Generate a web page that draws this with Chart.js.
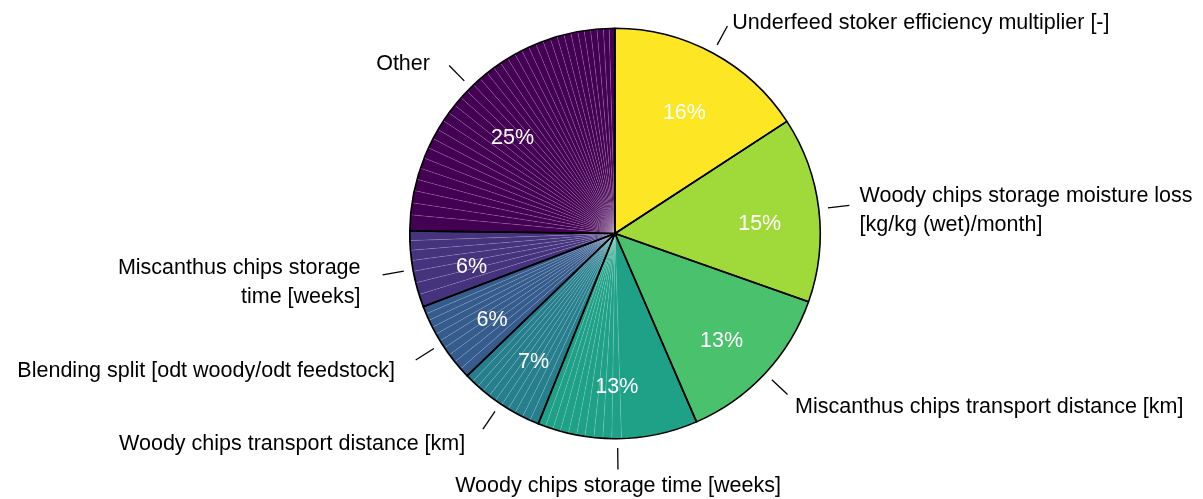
<!DOCTYPE html>
<html>
<head>
<meta charset="utf-8">
<script src="https://cdn.jsdelivr.net/npm/chart.js@4/dist/chart.umd.min.js"></script>
<style>
  body { margin: 0; background: #fff; }
  #wrap { width: 1203px; height: 499px; }
</style>
</head>
<body>
<div id="wrap"><canvas id="pie" width="1203" height="499"></canvas></div>
<script>
// group labels, clockwise from 12 o'clock
const groupLabels = [
  "Underfeed stoker efficiency multiplier [-]",
  ["Woody chips storage moisture loss", "[kg/kg (wet)/month]"],
  "Miscanthus chips transport distance [km]",
  "Woody chips storage time [weeks]",
  "Woody chips transport distance [km]",
  "Blending split [odt woody/odt feedstock]",
  ["Miscanthus chips storage", "time [weeks]"],
  "Other"
];

// sub-contributions inside each group (% of total)
const underfeed = [15.8];
const woodyMoisture = [14.6];
const miscTransport = [13.1];
const woodyStorage = [6.0, 0.75, 0.7, 0.7, 0.7, 0.65, 0.65, 0.65, 0.6, 0.6, 0.6];
const woodyTransport = [0.7, 0.65, 0.65, 0.6, 0.6, 0.6, 0.6, 0.6, 0.55, 0.55, 0.6];
const blending = [0.75, 0.7, 0.7, 0.65, 0.65, 0.6, 0.6, 0.6, 0.55, 0.6];
const miscStorage = [1.0, 0.95, 0.9, 0.85, 0.8, 0.75, 0.75];
const other = [1.25, 0.95, 0.95, 0.9, 0.9, 0.85, 0.85, 0.8, 0.8, 0.8, 0.75, 0.75, 0.75,
  0.7, 0.7, 0.7, 0.7, 0.65, 0.65, 0.65, 0.65, 0.6, 0.6, 0.6, 0.6, 0.6,
  0.55, 0.55, 0.55, 0.55, 0.5, 0.5, 0.5, 0.5, 0.45, 0.45];

const groupValues = [underfeed, woodyMoisture, miscTransport, woodyStorage,
  woodyTransport, blending, miscStorage, other];

const groupColors = ["#FDE725", "#9FDA3A", "#4AC16D", "#1FA187",
  "#277F8E", "#365C8D", "#46337E", "#440154"];

// flatten for the library
const data = [];
const colors = [];
const groupOf = [];
groupValues.forEach((g, i) => {
  g.forEach(v => { data.push(v); colors.push(groupColors[i]); groupOf.push(i); });
});

const FONT = "'Liberation Sans', Arial, Helvetica, sans-serif";

const groupPlugin = {
  id: 'groups',
  afterDatasetsDraw(chart) {
    const ctx = chart.ctx;
    const arcs = chart.getDatasetMeta(0).data;
    const cx = arcs[0].x, cy = arcs[0].y, r = arcs[0].outerRadius;

    ctx.save();
    groupValues.forEach((g, gi) => {
      const idx = [];
      groupOf.forEach((k, j) => { if (k === gi) idx.push(j); });
      const a0 = arcs[idx[0]].startAngle;
      const a1 = arcs[idx[idx.length - 1]].endAngle;
      const mid = (a0 + a1) / 2;
      const total = g.reduce((s, v) => s + v, 0);

      // black outline of the group
      ctx.beginPath();
      ctx.moveTo(cx, cy);
      ctx.arc(cx, cy, r, a0, a1);
      ctx.closePath();
      ctx.strokeStyle = '#000';
      ctx.lineWidth = 1.6;
      ctx.lineJoin = 'round';
      ctx.stroke();

      const ux = Math.cos(mid), uy = Math.sin(mid);

      // percent inside
      ctx.fillStyle = '#fff';
      ctx.font = '21.5px ' + FONT;
      ctx.textAlign = 'center';
      ctx.textBaseline = 'middle';
      ctx.fillText(Math.round(total) + '%', cx + ux * r * 0.71, cy + uy * r * 0.71 + 8);

      // tick
      ctx.beginPath();
      ctx.moveTo(cx + ux * r * 1.045, cy + uy * r * 1.045);
      ctx.lineTo(cx + ux * r * 1.15, cy + uy * r * 1.15);
      ctx.strokeStyle = '#000';
      ctx.lineWidth = 1.3;
      ctx.stroke();

      // outer label
      const lx = cx + ux * r * 1.2 - (ux < -0.15 ? 12 : 0);
      const ly = cy + uy * r * 1.2 + 6;
      const lines = Array.isArray(groupLabels[gi]) ? groupLabels[gi] : [groupLabels[gi]];
      ctx.fillStyle = '#000';
      ctx.font = '21.5px ' + FONT;
      ctx.textAlign = Math.abs(ux) < 0.15 ? 'center' : (ux > 0 ? 'left' : 'right');
      const lh = 29;
      lines.forEach((t, k) => {
        ctx.fillText(t, lx, ly + (k - (lines.length - 1) / 2) * lh);
      });
    });
    ctx.restore();
  }
};

new Chart(document.getElementById('pie'), {
  type: 'pie',
  data: {
    labels: data.map((v, i) => groupOf[i]),
    datasets: [{
      data: data,
      backgroundColor: colors,
      borderColor: 'rgba(255,255,255,0.2)',
      borderWidth: 0.5
    }]
  },
  options: {
    responsive: false,
    animation: false,
    layout: { padding: { top: 28, bottom: 60, left: 300, right: 273 } },
    plugins: {
      legend: { display: false },
      tooltip: { enabled: false }
    }
  },
  plugins: [groupPlugin]
});
</script>
</body>
</html>
